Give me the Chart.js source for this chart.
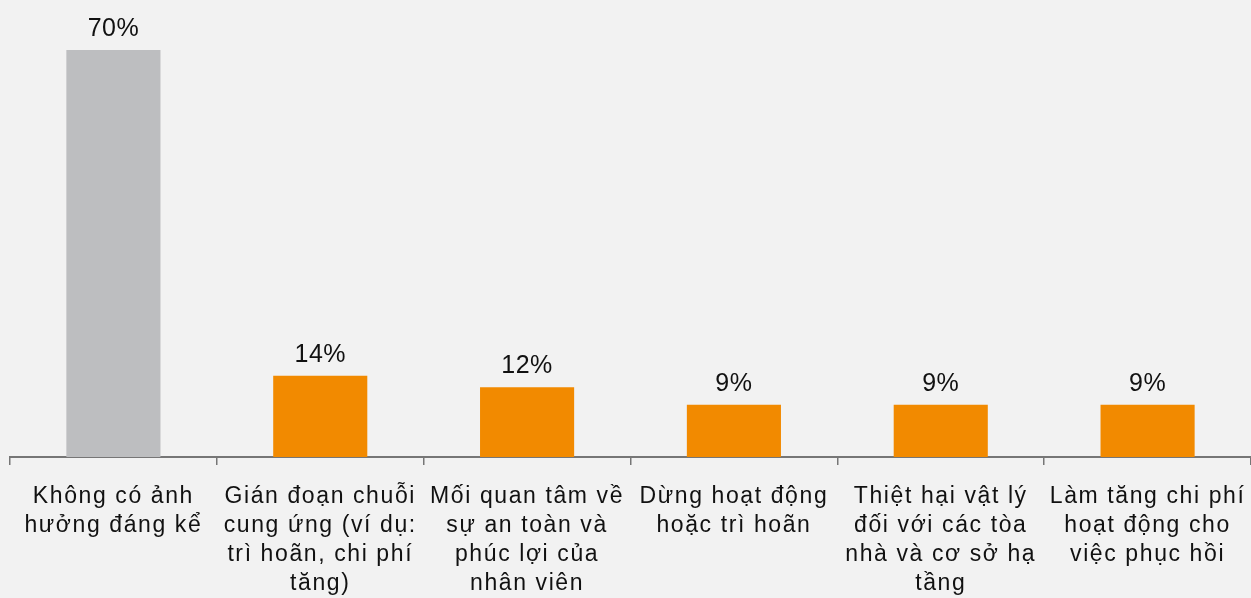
<!DOCTYPE html>
<html lang="vi">
<head>
    <meta charset="UTF-8">
    <script src="https://cdn.jsdelivr.net/npm/chart.js"></script>
    <title>Tác động</title>
    <style>
        html, body { margin: 0; padding: 0; background: #f2f2f2; overflow: hidden; }
        #khung { width: 1251px; height: 615px; }
    </style>
</head>
<body>
    <div id="khung">
        <canvas id="grafico1"></canvas>
    </div>
    <script>
        // dados
        const categorias = [
          ["Không có ảnh", "hưởng đáng kể"],
          ["Gián đoạn chuỗi", "cung ứng (ví dụ:", "trì hoãn, chi phí", "tăng)"],
          ["Mối quan tâm về", "sự an toàn và", "phúc lợi của", "nhân viên"],
          ["Dừng hoạt động", "hoặc trì hoãn"],
          ["Thiệt hại vật lý", "đối với các tòa", "nhà và cơ sở hạ", "tầng"],
          ["Làm tăng chi phí", "hoạt động cho", "việc phục hồi"]
        ]
        const valores = [70, 14, 12, 9, 9, 9]
        const cores = ["#bdbec0", "#f28a00", "#f28a00", "#f28a00", "#f28a00", "#f28a00"]

        const fonte = "'Liberation Sans', Arial, sans-serif"

        // rótulos de valor acima das barras
        const rotulos = {
          id: 'rotulos',
          afterDatasetsDraw(chart) {
            const ctx = chart.ctx
            const meta = chart.getDatasetMeta(0)
            ctx.save()
            ctx.letterSpacing = '0.5px'
            ctx.font = '25px ' + fonte
            ctx.fillStyle = '#111'
            ctx.textAlign = 'center'
            ctx.textBaseline = 'alphabetic'
            meta.data.forEach((bar, i) => {
              ctx.fillText(valores[i] + '%', bar.x, bar.y - 14)
            })
            ctx.restore()
          }
        }

        // espaçamento das letras nos rótulos do eixo
        const espaco = {
          id: 'espaco',
          beforeInit(chart) { chart.ctx.letterSpacing = '1.6px' },
          beforeDraw(chart) { chart.ctx.letterSpacing = '1.6px' }
        }

        const ctx = document.getElementById('grafico1')

        new Chart(ctx, {
          type: 'bar',
          data: {
            labels: categorias,
            datasets: [{
              data: valores,
              backgroundColor: cores,
              borderWidth: 0,
              barPercentage: 0.455,
              categoryPercentage: 1
            }]
          },
          options: {
            responsive: true,
            maintainAspectRatio: false,
            animation: false,
            layout: { padding: { left: 10, right: 0, top: 0, bottom: 0 } },
            plugins: {
              legend: { display: false },
              tooltip: { enabled: false }
            },
            scales: {
              x: {
                offset: true,
                grid: {
                  offset: true,
                  drawOnChartArea: false,
                  drawTicks: true,
                  tickLength: 8,
                  color: '#767676',
                  lineWidth: 1.5
                },
                border: { display: true, color: '#767676', width: 2 },
                ticks: {
                  color: '#111',
                  padding: 17,
                  maxRotation: 0,
                  autoSkip: false,
                  font: { family: fonte, size: 23, lineHeight: 1.26 }
                }
              },
              y: {
                display: false,
                min: 0,
                max: 78.6
              }
            }
          },
          plugins: [espaco, rotulos]
        })
    </script>
</body>
</html>
